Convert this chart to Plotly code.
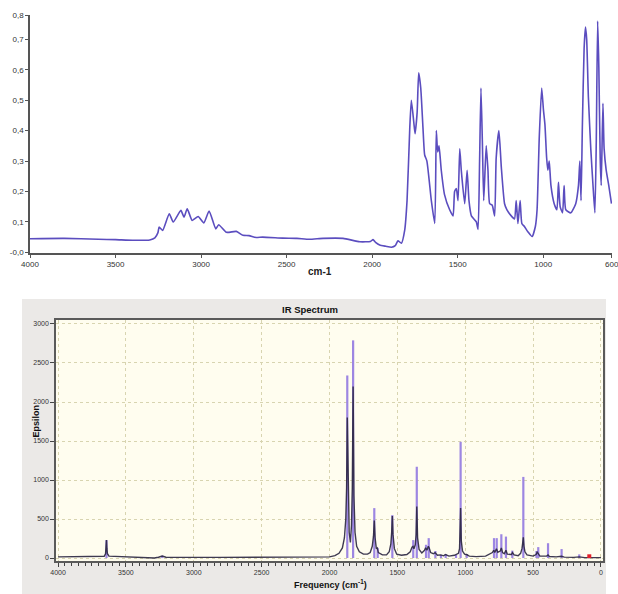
import plotly.graph_objects as go

W, H = 618, 594

# ---------------- Experimental IR spectrum (top) ----------------
exp_wn = [4000, 3800, 3600, 3500, 3400, 3300, 3270, 3252, 3245, 3225, 3186, 3163, 3118, 3100,
          3081, 3052, 3017, 2984, 2953, 2914, 2897, 2852, 2794, 2755, 2720, 2680, 2640, 2523,
          2440, 2367, 2287, 2170, 2072, 2010, 1995, 1980, 1956, 1920, 1887, 1865, 1849, 1829,
          1810, 1796, 1780, 1771, 1757, 1749, 1737, 1728, 1716, 1703, 1693, 1680, 1654, 1634,
          1625, 1617, 1609, 1596, 1577, 1547, 1527, 1518, 1508, 1498, 1488, 1479, 1459, 1445,
          1434, 1420, 1391, 1381, 1372, 1364, 1356, 1348, 1340, 1333, 1323, 1313, 1298, 1284,
          1275, 1259, 1245, 1226, 1212, 1187, 1168, 1158, 1148, 1135, 1125, 1110, 1090, 1065,
          1046, 1036, 1023, 1009, 999, 990, 980, 973, 965, 955, 936, 920, 911, 901, 887, 878,
          868, 839, 810, 794, 786, 779, 771, 761, 753, 746, 736, 722, 709, 698, 690, 682, 675,
          667, 661, 651, 644, 632, 617, 601]
exp_abs = [0.045, 0.046, 0.043, 0.042, 0.040, 0.041, 0.048, 0.065, 0.083, 0.072, 0.127, 0.100,
           0.138, 0.116, 0.143, 0.105, 0.118, 0.097, 0.136, 0.077, 0.091, 0.066, 0.069, 0.056,
           0.055, 0.049, 0.050, 0.047, 0.046, 0.043, 0.046, 0.046, 0.035, 0.036, 0.042, 0.033,
           0.024, 0.020, 0.017, 0.022, 0.038, 0.030, 0.072, 0.17, 0.41, 0.50, 0.43, 0.39, 0.46,
           0.59, 0.54, 0.41, 0.32, 0.30, 0.17, 0.095, 0.40, 0.33, 0.35, 0.27, 0.19, 0.14, 0.12,
           0.20, 0.21, 0.17, 0.34, 0.27, 0.16, 0.27, 0.17, 0.12, 0.10, 0.075, 0.30, 0.54, 0.37,
           0.17, 0.27, 0.35, 0.27, 0.16, 0.155, 0.12, 0.31, 0.40, 0.28, 0.16, 0.14, 0.12, 0.11,
           0.17, 0.095, 0.17, 0.095, 0.085, 0.068, 0.052, 0.085, 0.14, 0.38, 0.54, 0.47, 0.42,
           0.31, 0.27, 0.30, 0.22, 0.16, 0.14, 0.23, 0.15, 0.13, 0.22, 0.14, 0.13, 0.16, 0.22,
           0.30, 0.17, 0.42, 0.67, 0.74, 0.70, 0.51, 0.34, 0.22, 0.13, 0.36, 0.76, 0.61, 0.31,
           0.22, 0.49, 0.34, 0.27, 0.22, 0.16]

top_xticks = [4000, 3500, 3000, 2500, 2000, 1500, 1000, 600]
top_yticks = [0, 0.1, 0.2, 0.3, 0.4, 0.5, 0.6, 0.7, 0.78]
top_ytext = ["-0,0", "0,1", "0,2", "0,3", "0,4", "0,5", "0,6", "0,7", "0,8"]

# ---------------- Calculated IR spectrum (bottom) ----------------
calc_wn = [4000, 3700, 3660, 3650, 3646, 3643, 3640, 3636, 3625, 3550, 3450, 3380, 3350, 3290,
           3260, 3232, 3205, 3150, 2800, 2400, 2100, 2000, 1960, 1930, 1905, 1890, 1880, 1874,
           1869, 1862, 1855, 1846, 1838, 1832, 1826, 1820, 1812, 1800, 1780, 1750, 1720, 1700,
           1685, 1676, 1670, 1664, 1655, 1648, 1640, 1610, 1580, 1560, 1548, 1542, 1537, 1532,
           1522, 1505, 1470, 1430, 1405, 1392, 1385, 1378, 1368, 1362, 1357, 1351, 1340, 1320,
           1300, 1292, 1282, 1272, 1266, 1255, 1235, 1222, 1205, 1180, 1160, 1145, 1120, 1080,
           1050, 1042, 1038, 1034, 1029, 1020, 1005, 990, 970, 920, 850, 815, 800, 790, 782,
           770, 760, 742, 734, 725, 712, 700, 690, 660, 652, 640, 610, 592, 582, 576, 572, 567,
           560, 545, 500, 478, 470, 463, 450, 400, 390, 380, 330, 290, 270, 200, 160, 120, 0]
calc_eps = [15, 15, 22, 55, 120, 230, 120, 55, 25, 18, 17, 5, 0, 0,
            10, 25, 10, 8, 8, 8, 10, 15, 30, 60, 130, 260, 500, 900,
            1800, 700, 330, 200, 420, 900, 2200, 800, 330, 150, 80, 50, 50, 70,
            150, 280, 480, 260, 120, 130, 70, 40, 40, 80, 180, 330, 540, 300,
            120, 50, 35, 45, 80, 140, 150, 120, 170, 300, 660, 260, 110, 65,
            100, 130, 100, 150, 130, 70, 55, 70, 35, 40, 28, 45, 25, 35,
            60, 120, 300, 640, 220, 90, 50, 45, 25, 18, 25, 50, 70, 100, 70,
            120, 75, 90, 130, 70, 55, 100, 50, 45, 70, 40, 30, 60, 120, 200, 265, 150,
            80, 40, 25, 45, 75, 60, 25, 25, 40, 20, 15, 22, 12, 8, 15, 5, 5]

stick_wn = [3643, 3232, 1869, 1826, 1670, 1645, 1537, 1383, 1357, 1289, 1269, 1220, 1179,
            1144, 1068, 1034, 989, 788, 768, 734, 700, 653, 572, 475, 462, 390, 290, 160]
stick_eps = [230, 30, 2340, 2790, 640, 130, 550, 230, 1170, 170, 255, 90, 40,
             50, 40, 1490, 50, 255, 255, 305, 275, 95, 1040, 90, 140, 190, 115, 47]

red_wn = [86]
red_eps = [48]

bot_xticks = [4000, 3500, 3000, 2500, 2000, 1500, 1000, 500, 0]
bot_yticks = [0, 500, 1000, 1500, 2000, 2500, 3000]


def sticks(xs, ys):
    sx, sy = [], []
    for x, y in zip(xs, ys):
        sx += [x, x, None]
        sy += [0, y, None]
    return sx, sy


FONT = "Liberation Sans"
fig = go.Figure()

fig.add_trace(go.Scatter(x=exp_wn, y=exp_abs, mode="lines", xaxis="x", yaxis="y",
                         line=dict(color="#5b4dbf", width=1.6, shape="spline",
                                   smoothing=0.5),
                         showlegend=False, hoverinfo="skip"))

sx, sy = sticks(stick_wn, stick_eps)
fig.add_trace(go.Scatter(x=sx, y=sy, mode="lines", xaxis="x2", yaxis="y2",
                         line=dict(color="#9d86e2", width=2.2), showlegend=False,
                         hoverinfo="skip"))
fig.add_trace(go.Scatter(x=calc_wn, y=calc_eps, mode="lines", xaxis="x2", yaxis="y2",
                         line=dict(color="#2a2540", width=1.4), opacity=0.9,
                         showlegend=False, hoverinfo="skip"))
rx, ry = sticks(red_wn, red_eps)
fig.add_trace(go.Scatter(x=rx, y=ry, mode="lines", xaxis="x2", yaxis="y2",
                         line=dict(color="#e3202a", width=4), showlegend=False,
                         hoverinfo="skip"))

fig.update_layout(
    width=W, height=H,
    margin=dict(l=0, r=0, t=0, b=0, autoexpand=False),
    paper_bgcolor="white",
    plot_bgcolor="rgba(0,0,0,0)",
    font=dict(family=FONT, color="#333"),
    xaxis=dict(domain=[30 / W, 612 / W], range=[4000, 598], anchor="y", automargin=False,
               tickvals=top_xticks, ticks="outside", ticklen=3, tickcolor="#555",
               ticklabeloverflow="allow",
               showline=True, linecolor="#555", linewidth=1.5, showgrid=False,
               zeroline=False, tickfont=dict(size=8, color="#333")),
    yaxis=dict(domain=[1 - 253 / H, 1 - 15 / H], range=[-0.002, 0.78], anchor="x",
               automargin=False, ticklabeloverflow="allow",
               tickvals=top_yticks, ticktext=top_ytext, ticks="outside", ticklen=3,
               tickcolor="#555", showline=True, linecolor="#555", linewidth=1.5,
               showgrid=False, zeroline=False, tickfont=dict(size=8, color="#333")),
    xaxis2=dict(domain=[56 / W, 603 / W], range=[4015, -15], anchor="y2", automargin=False,
                tickvals=bot_xticks, ticks="outside", ticklen=4, tickcolor="#444",
                ticklabeloverflow="allow",
                minor=dict(dtick=50, ticklen=3, tickcolor="#444", ticks="outside",
                           showgrid=False),
                showline=True, mirror=True, linecolor="#5a5a5a", linewidth=1.5,
                showgrid=True, gridcolor="#d8d4b0", griddash="dot", gridwidth=1,
                zeroline=False, tickfont=dict(size=7, color="#333")),
    yaxis2=dict(domain=[1 - 561 / H, 1 - 320 / H], range=[-38, 3051], anchor="x2",
                automargin=False,
                tickvals=bot_yticks, ticks="outside", ticklen=4, tickcolor="#444",
                showline=True, mirror=True, linecolor="#5a5a5a", linewidth=1.5,
                showgrid=True, gridcolor="#d8d4b0", griddash="dot", gridwidth=1,
                zeroline=False, tickfont=dict(size=7, color="#333")),
    shapes=[
        dict(type="rect", xref="paper", yref="paper", x0=22 / W, x1=606 / W,
             y0=0, y1=1 - 299 / H, fillcolor="#ebe9e7", line=dict(width=0),
             layer="below"),
        dict(type="rect", xref="x2 domain", yref="y2 domain", x0=0, x1=1, y0=0, y1=1,
             fillcolor="#fffdef", line=dict(width=0), layer="below"),
    ],
    annotations=[
        dict(text="<b>cm-1</b>", x=320 / W, y=1 - 271 / H, xref="paper", yref="paper",
             showarrow=False, font=dict(size=10, color="#222")),
        dict(text="<b>IR Spectrum</b>", x=310 / W, y=1 - 309 / H, xref="paper",
             yref="paper", showarrow=False, font=dict(size=9.5, color="#111")),
        dict(text="<b>Epsilon</b>", x=28 / W, y=1 - 440 / H, xref="paper", yref="paper",
             showarrow=False, textangle=-90, font=dict(size=9, color="#111")),
        dict(text="<b>Frequency (cm<sup>-1</sup>)</b>", x=330 / W, y=1 - 592 / H,
             xref="paper", yref="paper", showarrow=False, yanchor="bottom",
             font=dict(size=9, color="#111")),
    ],
)

fig.write_html("out.html",
               config={"displayModeBar": False},
               post_script="document.body.style.margin='0';"
                           "document.body.style.overflow='hidden';")
